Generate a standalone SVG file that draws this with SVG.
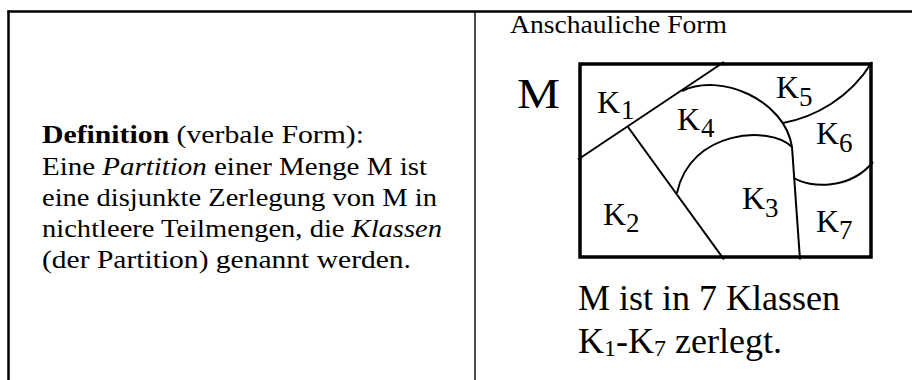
<svg xmlns="http://www.w3.org/2000/svg" width="912" height="380" viewBox="0 0 912 380">
<style>
.frame{stroke:#000;fill:none}
.txt{font-family:"Liberation Serif","Times New Roman",serif;fill:#000}
.cm{font-family:"Liberation Serif","Times New Roman",serif;font-size:26px;fill:#000}
.k{font-family:"Liberation Serif","Times New Roman",serif;font-size:32px;fill:#000}
.sub{font-size:27px}
.div{stroke:#000;stroke-width:2;fill:none;stroke-linecap:butt}
</style>
<rect width="912" height="380" fill="#fff"/>
<g id="table">
<line class="frame" x1="7.5" y1="11.5" x2="912" y2="11.5" stroke-width="2.5"/>
<line class="frame" x1="8.5" y1="10.5" x2="8.5" y2="380" stroke-width="2.5"/>
<line class="frame" x1="475" y1="12" x2="475" y2="380" stroke-width="1.4"/>
</g>
<g id="definition">
<text class="cm" x="42" y="143" textLength="322" lengthAdjust="spacingAndGlyphs"><tspan font-weight="bold">Definition</tspan> (verbale Form):</text>
<text class="cm" x="42" y="175" textLength="385" lengthAdjust="spacingAndGlyphs">Eine <tspan font-style="italic">Partition</tspan> einer Menge M ist</text>
<text class="cm" x="42" y="206" textLength="395" lengthAdjust="spacingAndGlyphs">eine disjunkte Zerlegung von M in</text>
<text class="cm" x="42" y="237" textLength="400" lengthAdjust="spacingAndGlyphs">nichtleere Teilmengen, die <tspan font-style="italic">Klassen</tspan></text>
<text class="cm" x="42" y="268" textLength="369" lengthAdjust="spacingAndGlyphs">(der Partition) genannt werden.</text>
</g>
<g id="header">
<text class="cm" x="510" y="33" textLength="217" lengthAdjust="spacingAndGlyphs">Anschauliche Form</text>
</g>
<g id="set-M">
<text class="txt" x="517" y="108" font-size="42" textLength="43" lengthAdjust="spacingAndGlyphs">M</text>
<rect x="580" y="64" width="291" height="193" fill="none" stroke="#000" stroke-width="3.5"/>
</g>
<g id="boundaries">
<path class="div" d="M578,159.5 L724,62"/>
<path class="div" d="M628,127 L724,259.5"/>
<path class="div" d="M682,91 C720,72 785,100 792,147"/>
<path class="div" d="M783,123 C815,117 850,98 872,62"/>
<path class="div" d="M677,193 C690,130 770,125 792,147"/>
<path class="div" d="M792,147 L800,259.5"/>
<path class="div" d="M794,178 C810,188 850,190 873,162"/>
</g>
<g id="K1"><text class="k" x="597" y="113">K<tspan class="sub" x="621" y="119">1</tspan></text></g>
<g id="K2"><text class="k" x="603" y="225">K<tspan class="sub" x="626" y="232">2</tspan></text></g>
<g id="K3"><text class="k" x="742" y="209">K<tspan class="sub" x="765" y="217">3</tspan></text></g>
<g id="K4"><text class="k" x="677" y="130">K<tspan class="sub" x="701" y="137">4</tspan></text></g>
<g id="K5"><text class="k" x="776" y="98">K<tspan class="sub" x="799" y="106">5</tspan></text></g>
<g id="K6"><text class="k" x="816" y="144">K<tspan class="sub" x="839" y="152">6</tspan></text></g>
<g id="K7"><text class="k" x="816" y="232">K<tspan class="sub" x="839" y="239">7</tspan></text></g>
<g id="caption">
<text class="txt" x="578" y="310" font-size="36">M ist in 7 Klassen</text>
<text class="txt" x="578" y="353" font-size="36">K<tspan font-size="24" dy="3">1</tspan><tspan dy="-3">-K</tspan><tspan font-size="24" dy="3">7</tspan><tspan dy="-3"> zerlegt.</tspan></text>
</g>
</svg>
